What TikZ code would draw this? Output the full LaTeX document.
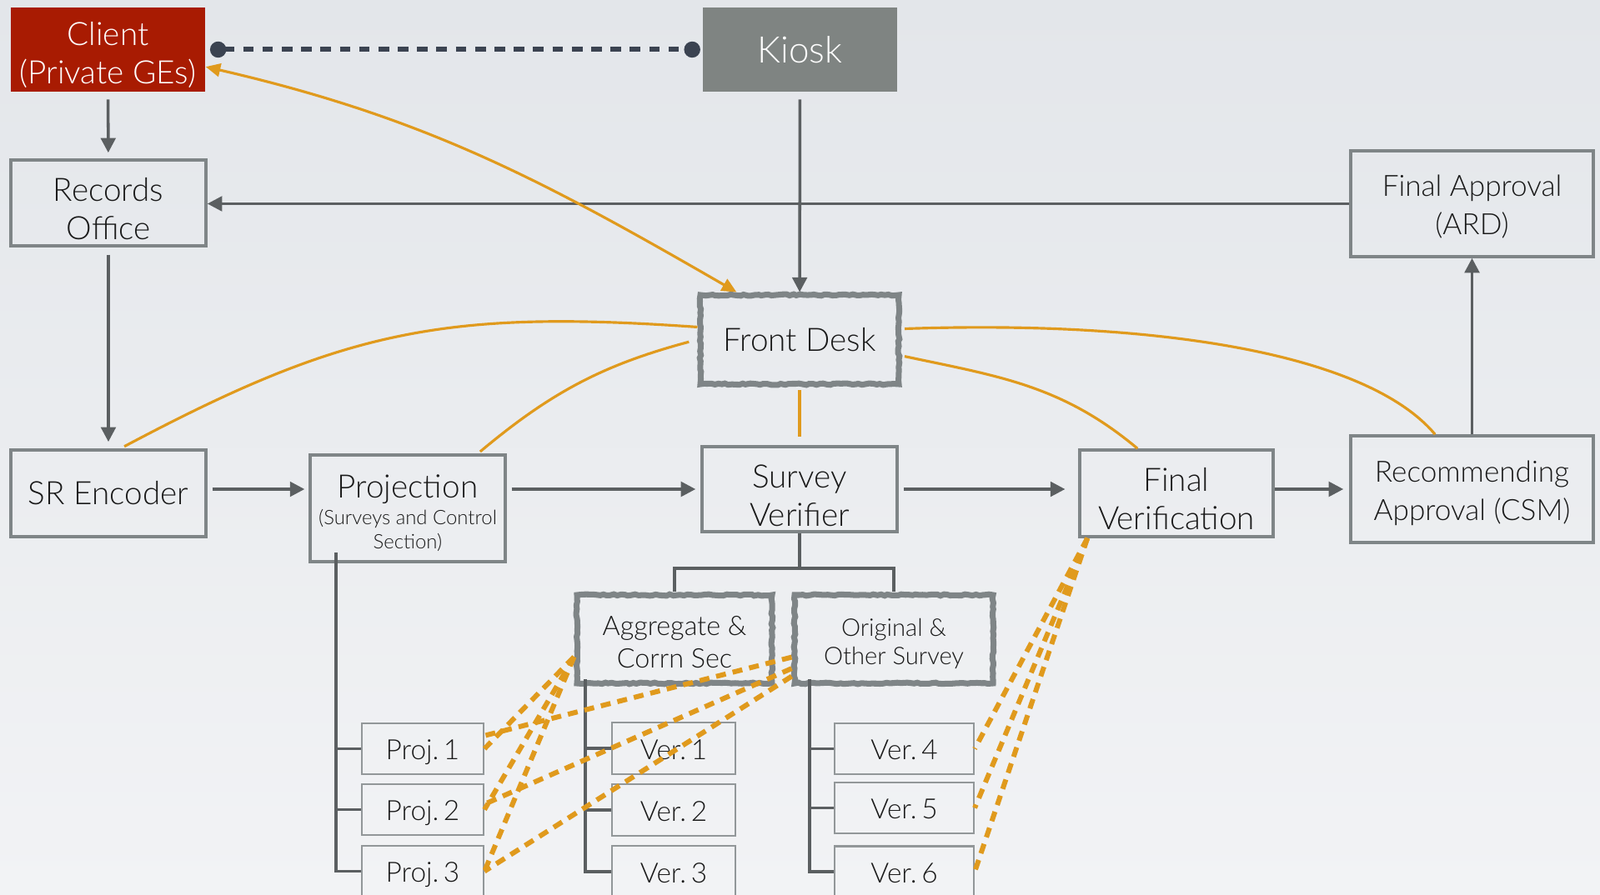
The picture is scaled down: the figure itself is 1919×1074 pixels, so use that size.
\documentclass[tikz,border=0pt]{standalone}
\usepackage{fontspec}
\setmainfont{Lato}[UprightFont=* Light]
\usetikzlibrary{arrows.meta,decorations.pathmorphing}

\definecolor{bgtop}{HTML}{E3E6EA}
\definecolor{bgbot}{HTML}{F2F3F5}
\definecolor{clientred}{HTML}{A81B02}
\definecolor{kioskgray}{HTML}{7F8482}
\definecolor{edge}{HTML}{7F8587}
\definecolor{wire}{HTML}{5B5F61}
\definecolor{gold}{HTML}{E09A1D}
\definecolor{navy}{HTML}{3B4351}

\newcommand{\projsub}{\fontsize{6.8}{8.3}\selectfont}
\newcommand{\liftline}[1]{\rule{0pt}{#1}}

\tikzset{
	box/.style={draw=edge, line width=1pt, align=center, text=black!90, font=\fontsize{11}{13}\selectfont, inner sep=0pt},
	rough/.style={box, line width=2pt, decorate, decoration={random steps, segment length=1.2pt, amplitude=0.25pt}},
	small/.style={draw=edge!85, line width=0.6pt, text=black!90, font=\fontsize{9.5}{11}\selectfont, inner sep=0pt, text height=7.4pt, text depth=0pt},
	arrow/.style={wire, line width=1pt, -{Triangle[length=5pt,width=5pt]}},
	tree/.style={wire, line width=1pt},
	feedback/.style={gold, line width=0.9pt},
	handoff/.style={gold, line width=1.7pt, dash pattern=on 3.4pt off 2.4pt},
	hotline/.style={navy, line width=1.7pt, dash pattern=on 3.6pt off 3pt, {Circle[length=5.5pt]}-{Circle[length=5.5pt]}}
}

\begin{document}
\begin{tikzpicture}[x=0.1mm, y=-0.1mm]
\fill [top color=bgtop, bottom color=bgbot] (0,0) rectangle (1919,1074);
\useasboundingbox (0,0) rectangle (1919,1074);

% top row
\node (client) at (129.5,59.5) [fill=clientred, text=white, align=center, inner sep=0pt, font=\fontsize{11}{13}\selectfont, minimum width=2.33cm, minimum height=1.01cm] {\liftline{11.9pt}Client\\(Private GEs)};
\node (kiosk) at (959.5,59.5) [fill=kioskgray, text=white, inner sep=0pt, font=\fontsize{12.5}{15}\selectfont, minimum width=2.33cm, minimum height=1.01cm] {Kiosk};

\node (records) at (130,243.5) [box, minimum width=2.34cm, minimum height=1.03cm] {\liftline{11.9pt}Records\\Office};
\node (ard) at (1765.5,244.5) [box, font=\fontsize{10}{13.2}\selectfont, minimum width=2.91cm, minimum height=1.27cm] {\liftline{9.4pt}Final Approval\\(ARD)};
\node (front) at (959,407.5) [rough, minimum width=2.38cm, minimum height=1.07cm] {Front Desk};

% main line
\node (encoder) at (130,592) [box, minimum width=2.34cm, minimum height=1.04cm] {SR Encoder};
\node (proj) at (489,610) [box, minimum width=2.34cm, minimum height=1.28cm] {\liftline{11.2pt}Projection\\[-4pt]\projsub(Surveys and Control\\[-4.7pt]\projsub Section)};
\node (verifier) at (959,587) [box, minimum width=2.34cm, minimum height=1.02cm] {\liftline{12.2pt}Survey\\Verifier};
\node (finalver) at (1411,592) [box, minimum width=2.32cm, minimum height=1.04cm] {\liftline{11.6pt}Final\\Verification};
\node (csm) at (1765.5,587) [box, font=\fontsize{10}{13.2}\selectfont, minimum width=2.91cm, minimum height=1.28cm] {\liftline{10.1pt}Recommending\\Approval (CSM)};

\node (aggr) at (809,767) [rough, font=\fontsize{9.2}{11.1}\selectfont, minimum width=2.34cm, minimum height=1.06cm] {\liftline{8.8pt}Aggregate \&\\Corrn Sec};
\node (orig) at (1072,767) [rough, font=\fontsize{8.3}{9.8}\selectfont, minimum width=2.38cm, minimum height=1.06cm] {\liftline{9.2pt}Original \&\\Other Survey};

% sub units
\node (p1) at (507,898.5) [small, minimum width=1.46cm, minimum height=0.61cm] {Proj.\,1};
\node (p2) at (507,971.5) [small, minimum width=1.46cm, minimum height=0.61cm] {Proj.\,2};
\node (p3) at (507,1045.5) [small, minimum width=1.46cm, minimum height=0.61cm] {Proj.\,3};
\node (v1) at (808,898) [small, minimum width=1.48cm, minimum height=0.62cm] {Ver.\,1};
\node (v2) at (808,972) [small, minimum width=1.48cm, minimum height=0.62cm] {Ver.\,2};
\node (v3) at (808,1046) [small, minimum width=1.48cm, minimum height=0.62cm] {Ver.\,3};
\node (v4) at (1084.5,898.5) [small, minimum width=1.67cm, minimum height=0.61cm] {Ver.\,4};
\node (v5) at (1084.5,969.5) [small, minimum width=1.67cm, minimum height=0.61cm] {Ver.\,5};
\node (v6) at (1084.5,1046) [small, minimum width=1.67cm, minimum height=0.61cm] {Ver.\,6};

% gray flow
\draw [hotline, shorten <=1.5pt, shorten >=0.7pt] (client) -- (kiosk);
\draw [arrow, shorten <=2.5pt, shorten >=2pt] (client) -- (records);
\draw [arrow] (ard) -- (ard -| records.east);
\draw [arrow, shorten <=2.5pt] (kiosk) -- (front);
\draw [arrow, shorten <=2.5pt, shorten >=2.3pt] (records) -- (encoder);
\draw [arrow, shorten <=1.7pt, shorten >=1.4pt] (encoder.east |- verifier) -- (proj.west |- verifier);
\draw [arrow, shorten <=1.7pt, shorten >=1.7pt] (proj.east |- verifier) -- (verifier);
\draw [arrow, shorten <=1.7pt, shorten >=4.5pt] (verifier) -- (finalver.west |- verifier);
\draw [arrow, shorten >=2pt] (finalver.east |- verifier) -- (csm.west |- verifier);
\draw [arrow] (csm.north) -- (ard);

% trees
\coordinate (vsplit) at (959,682);
\draw [tree] (verifier) -- (vsplit);
\draw [tree] (aggr.north) |- (vsplit) -| (orig.north);

\coordinate (pspine) at (403,663);
\draw [tree] (pspine) |- (p3.west);
\draw [tree] (pspine |- p1) -- (p1);
\draw [tree] (pspine |- p2) -- (p2);

\coordinate (aspine) at (702,815);
\draw [tree] (aspine) |- (v3.west);
\draw [tree] (aspine |- v1) -- (v1);
\draw [tree] (aspine |- v2) -- (v2);

\coordinate (ospine) at (971,815);
\draw [tree] (ospine) |- (v6.west);
\draw [tree] (ospine |- v4) -- (v4);
\draw [tree] (ospine |- v5) -- (v5);

% orange links
\draw [feedback, {Triangle[length=5pt,width=4.5pt]}-{Triangle[length=5pt,width=4.5pt]}] (client.-10) to [out=-13, in=150] (front.143);
\draw [feedback, shorten >=1.5pt] (front.173) to [out=176, in=28, looseness=1.1] (encoder.75);
\draw [feedback, shorten <=3pt, shorten >=1pt] (front.west) to [out=195, in=40] (proj.38);
\draw [feedback, shorten <=1pt, shorten >=2.8pt] (front) -- (verifier);
\draw [feedback, shorten <=1pt] (front.-9) to [out=-12, in=140] (finalver.131);
\draw [feedback, shorten <=1pt] (front.6) to [out=2, in=130, out looseness=1.2, in looseness=0.5] (csm.124);

% dashed hand-offs
\draw [handoff] ([xshift=1.1mm]finalver.south west) -- (v4.east);
\draw [handoff] ([xshift=1.1mm]finalver.south west) -- (v5.east);
\draw [handoff] ([xshift=1.1mm]finalver.south west) -- (v6.east);
\draw [handoff] (aggr.190) -- (p1.east);
\draw [handoff] (aggr.190) -- (p2.east);
\draw [handoff] (aggr.190) -- (p3.east);
\draw [handoff] (orig.190) -- (p1.12);
\draw [handoff] (orig.196) -- (p2.5);
\draw [handoff] (orig.200) -- (p3.east);

\end{tikzpicture}
\end{document}
